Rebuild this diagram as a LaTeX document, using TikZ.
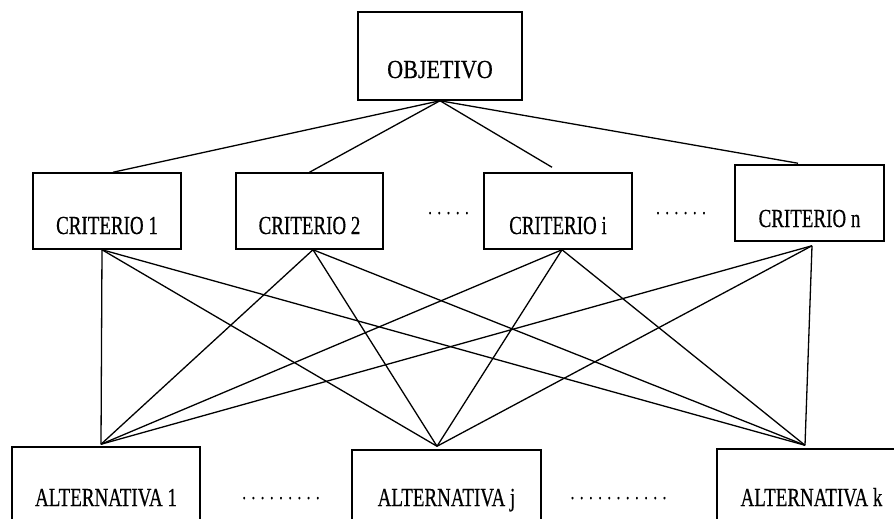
\documentclass[tikz,border=0pt]{standalone}
\usepackage{fontspec}
\setmainfont{Liberation Serif}[FakeStretch=0.73,FakeBold=0.4]
\newfontfamily\objfont{Liberation Serif}[FakeStretch=0.85,FakeBold=0.4]
\usetikzlibrary{calc}
\newcommand\dd{\makebox[9.2pt]{.}}
\begin{document}
\begin{tikzpicture}[x=1pt,y=-1pt,
  box/.style={draw, line width=1.5pt, rectangle, inner sep=0pt, font=\fontsize{26}{30}\selectfont},
  link/.style={line width=1.3pt},
  dotsl/.style={inner sep=0pt, anchor=base, font=\fontsize{20}{24}\selectfont}]
\useasboundingbox (0,0) rectangle (894,519);
\clip (0,0) rectangle (894,519);
\fill[white] (0,0) rectangle (894,519);
% boxes
\node[box, font=\fontsize{26}{30}\objfont, minimum width=164pt, minimum height=88pt, text height=66pt, text depth=22pt] (obj) at (440,56) {OBJETIVO};
\node[box, minimum width=148pt, minimum height=76pt, text height=61pt, text depth=15pt] (c1) at (107,211) {CRITERIO 1};
\node[box, minimum width=147pt, minimum height=76pt, text height=61pt, text depth=15pt] (c2) at (309.5,211) {CRITERIO 2};
\node[box, minimum width=148pt, minimum height=76pt, text height=61pt, text depth=15pt] (ci) at (558,211) {CRITERIO i};
\node[box, minimum width=149pt, minimum height=76pt, text height=62pt, text depth=14pt] (cn) at (809.5,203) {CRITERIO n};
\node[box, minimum width=188pt, minimum height=80pt, text height=59pt, text depth=21pt] (a1) at (106,487) {ALTERNATIVA 1};
\node[box, minimum width=189pt, minimum height=80pt, text height=56pt, text depth=24pt] (aj) at (446.5,490) {ALTERNATIVA j};
\node[box, minimum width=189pt, minimum height=80pt, text height=57pt, text depth=23pt] (ak) at (811.5,489) {ALTERNATIVA k};
% dots
\node[dotsl] (d1) at (448.5,214) {\dd\dd\dd\dd\dd};
\node[dotsl] (d2) at (681,214) {\dd\dd\dd\dd\dd\dd};
\node[dotsl] (d3) at (281,499) {\dd\dd\dd\dd\dd\dd\dd\dd\dd};
\node[dotsl] (d4) at (618.5,499) {\dd\dd\dd\dd\dd\dd\dd\dd\dd\dd\dd};
% connector end points
\coordinate (c1t) at ($(c1.north)+(6,0)$);
\coordinate (c2t) at (c2.north);
\coordinate (cit) at ($(ci.north)+(-6,-5)$);
\coordinate (cnt) at ($(cn.north)+(-11.5,-1)$);
\coordinate (c1b) at ($(c1.south)+(-5,0)$);
\coordinate (c2b) at ($(c2.south)+(3.5,0)$);
\coordinate (cib) at ($(ci.south)+(4,0)$);
\coordinate (cnb) at ($(cn.south)+(2.5,4)$);
\coordinate (a1t) at ($(a1.north)+(-5,-2)$);
\coordinate (ajt) at ($(aj.north)+(-9.5,-3)$);
\coordinate (akt) at ($(ak.north)+(-6.5,-3)$);
% objective to criteria
\foreach \c in {c1t,c2t,cit,cnt} \draw[link] (obj.south) -- (\c);
% criteria to alternatives
\foreach \c in {c1b,c2b,cib,cnb} {
  \foreach \a in {a1t,ajt,akt} \draw[link] (\c) -- (\a);
}
\end{tikzpicture}
\end{document}
